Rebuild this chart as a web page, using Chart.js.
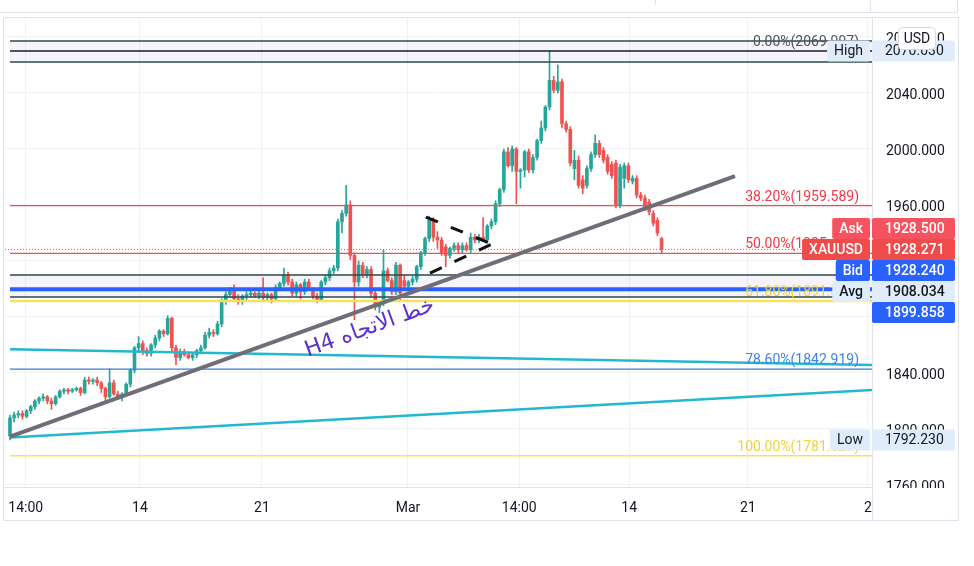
<!DOCTYPE html>
<html>
<head>
<meta charset="utf-8">
<script src="https://cdn.jsdelivr.net/npm/chart.js@4.4.1/dist/chart.umd.min.js"></script>
<style>
  body { margin: 0; background: #fff; }
  canvas { display: block; }
</style>
</head>
<body>
<canvas id="chart" width="974" height="566"></canvas>
<script>
// XAUUSD H4 candles
var opens = [1795,1808,1810,1811,1809,1813,1816,1820,1822,1823,
  1820,1818,1823,1827,1828,1827,1828,1829,1826,1835,
  1834,1835,1833,1829,1823,1833,1825,1823,1825,1832,
  1842,1858,1861,1856,1854,1860,1865,1870,1868,1879,
  1858,1851,1855,1853,1851,1853,1856,1858,1867,1869,
  1868,1875,1891,1896,1899,1893,1891,1895,1896,1897,
  1895,1897,1894,1896,1893,1901,1904,1910,1905,1897,
  1903,1898,1905,1900,1895,1892,1905,1908,1913,1915,
  1948,1954,1960,1924,1905,1917,1910,1914,1897,1887,
  1890,1913,1906,1898,1917,1906,1902,1905,1907,1916,
  1926,1936,1949,1937,1935,1930,1924,1929,1931,1928,
  1931,1928,1937,1935,1937,1935,1945,1948,1961,1971,
  1998,1988,2000,1984,1985,1998,1985,1994,2006,2015,
  2030,2049,2042,2048,2018,2014,1986,1992,1978,1974,
  1986,1996,2004,1999,1994,1989,1990,1960,1979,1988,
  1977,1979,1967,1965,1962,1954,1949,1936];
var highs = [1810,1812,1813,1813,1814,1817,1821,1823,1825,1824,
  1822,1824,1828,1829,1829,1829,1830,1830,1837,1837,
  1836,1837,1834,1830,1843,1835,1827,1826,1833,1843,
  1859,1866,1863,1858,1861,1867,1871,1871,1881,1880,
  1860,1857,1857,1855,1854,1857,1860,1869,1872,1871,
  1877,1893,1898,1901,1903,1896,1896,1898,1899,1898,
  1899,1908,1897,1897,1903,1905,1915,1912,1907,1905,
  1904,1907,1907,1901,1897,1906,1910,1915,1917,1950,
  1956,1974,1963,1926,1920,1919,1916,1916,1899,1892,
  1928,1915,1908,1919,1918,1910,1906,1909,1917,1927,
  1937,1952,1951,1941,1937,1932,1930,1933,1933,1933,
  1933,1940,1939,1939,1951,1946,1950,1963,1972,2000,
  2001,2002,2001,1986,1999,2000,1996,2007,2020,2031,
  2070.03,2052,2060,2050,2020,2016,1999,1995,1981,1988,
  1998,2010,2006,2001,1996,1991,1992,1989,1990,1990,
  1981,1981,1969,1967,1964,1956,1951,1937];
var lows = [1792.23,1805,1808,1807,1808,1811,1814,1818,1820,1818,
  1814,1817,1822,1825,1825,1826,1827,1824,1825,1832,
  1832,1831,1826,1820,1822,1824,1821,1820,1824,1830,
  1840,1855,1853,1852,1852,1858,1863,1866,1867,1856,
  1846,1849,1852,1850,1849,1851,1854,1857,1865,1866,
  1867,1873,1889,1894,1891,1889,1889,1892,1894,1894,
  1893,1891,1892,1890,1892,1899,1902,1903,1895,1895,
  1893,1896,1899,1893,1890,1891,1903,1906,1911,1913,
  1940,1952,1921,1878,1902,1908,1908,1894,1885,1883,
  1888,1905,1896,1896,1892,1900,1900,1903,1905,1914,
  1924,1934,1934,1929,1924,1916,1922,1927,1926,1926,
  1927,1926,1933,1933,1934,1933,1943,1946,1959,1969,
  1987,1984,1961,1972,1980,1983,1983,1992,2004,2013,
  2028,2040,2040,2015,2012,1988,1978,1972,1968,1972,
  1984,1994,1994,1990,1982,1979,1958,1958,1972,1976,
  1975,1965,1963,1956,1953,1945,1938,1926];
var closes = [1808,1810,1811,1809,1813,1816,1820,1822,1823,1820,
  1818,1823,1827,1828,1827,1828,1829,1826,1835,1834,
  1835,1833,1829,1823,1833,1825,1823,1825,1832,1842,
  1858,1861,1856,1854,1860,1865,1870,1868,1879,1858,
  1851,1855,1853,1851,1853,1856,1858,1867,1869,1868,
  1875,1891,1896,1899,1893,1891,1895,1896,1897,1895,
  1897,1894,1896,1893,1901,1904,1910,1905,1897,1903,
  1898,1905,1900,1895,1892,1905,1908,1913,1915,1948,
  1954,1960,1924,1905,1917,1910,1914,1897,1887,1890,
  1913,1906,1898,1917,1897,1902,1905,1907,1916,1926,
  1936,1949,1937,1935,1926,1924,1929,1931,1928,1931,
  1928,1937,1935,1937,1935,1945,1948,1961,1971,1998,
  1988,2000,1984,1985,1998,1985,1994,2006,2015,2030,
  2049,2042,2048,2018,2014,1990,1992,1974,1972,1986,
  1996,2004,1996,1992,1984,1981,1960,1987,1988,1978,
  1979,1967,1965,1958,1955,1947,1940,1928.271];

// axes
var xMin = -1.2, xMax = 207.7;
var yMin = 1758.57, yMax = 2093.57;
var timeTicks = [3.8, 31.3, 60.7, 95.9, 122.7, 149.2, 177.8, 206.7];
var timeLabels = ['14:00', '14', '21', 'Mar', '14:00', '14', '21', '2'];
var priceTicks = [1760, 1800, 1840, 1880, 1920, 1960, 2000, 2040, 2080];

// fibonacci retracement
var fibValues = [2069.997, 1959.589, 1925.480, 1891.370, 1842.820, 1780.970];
var fibLabels = ['0.00%(2069.997)', '38.20%(1959.589)', '50.00%(1925.480)',
  '61.80%(1891.370)', '78.60%(1842.919)', '100.00%(1781.027)'];

// drawings (candle index, price)
var trendLine = [[0, 1794.5], [174.7, 1980.7]];
var channelUpper = [[0, 1857], [207.7, 1845.7]];
var channelLower = [[0, 1794], [207.7, 1827.9]];
var patternUpper = [[100.2, 1951.4], [116.1, 1932.1]];
var patternLower = [[101.2, 1911.4], [116.1, 1932.1]];
var zoneTops = [2077.1, 1910.0];
var zoneBottoms = [2062.1, 1894.3];
var supportLevel = 1899.858;
var lastPrice = 1928.271;
var noteText = 'خط الاتجاه H4';
var noteAt = [86.7, 1872.1];

// price scale tags
var stackNames = ['Ask', 'XAUUSD', 'Bid', 'Avg', ''];
var stackValues = [1928.5, 1928.271, 1928.24, 1908.034, 1899.858];
var extremeNames = ['High', 'Low'];
var extremeValues = [2070.03, 1792.23];

// styles
var up = '#26a69a', down = '#ef5350';
var fibLineColors = ['#1e1e1e', '#f0504c', '#f0504c', '#f5e15a', '#3b7ddd', '#f5e15a'];
var fibLineWidths = [1.6, 1.2, 1.2, 2.5, 1.3, 1.5];
var fibTextColors = ['#50535e', '#f23645', '#f23645', '#efd23c', '#3f84e5', '#efd23c'];
var stackBg = ['#f7525f', '#ee4b4b', '#2962ff', '#e1ecfb', '#2962ff'];
var stackFg = ['#fff', '#fff', '#fff', '#131722', '#fff'];
var lightBg = '#e1ecfb';

var idx = closes.map(function (c, i) { return i; });
var candleColors = closes.map(function (c, i) { return c >= opens[i] ? up : down; });

function pts(list) {
  return list.map(function (p) { return { x: p[0], y: p[1] }; });
}
function level(v, from) {
  return [{ x: from, y: v }, { x: xMax, y: v }];
}
function line(data, color, width, order, dash) {
  return {
    type: 'line', data: data, borderColor: color, borderWidth: width,
    borderDash: dash || [], pointRadius: 0, fill: false, tension: 0, order: order
  };
}

var datasets = [];
// shaded zones
zoneTops.forEach(function (t, k) {
  datasets.push({
    type: 'line', data: level(t, 0), fill: { value: zoneBottoms[k] },
    backgroundColor: 'rgba(120,90,200,0.07)', borderColor: 'rgba(0,0,0,0)',
    borderWidth: 1, pointRadius: 0, order: 9
  });
});
datasets.push(line(level(lastPrice, xMin), down, 1, 8, [1, 2]));
datasets.push({
  type: 'bar', data: idx.map(function (i) { return { x: i, y: [lows[i], highs[i]] }; }),
  backgroundColor: candleColors, barThickness: 1, grouped: false, order: 7
});
datasets.push({
  type: 'bar', data: idx.map(function (i) { return { x: i, y: [opens[i], closes[i]] }; }),
  backgroundColor: candleColors, barThickness: 3, minBarLength: 1, grouped: false, order: 6
});
zoneTops.forEach(function (t, k) {
  datasets.push(line(level(t, 0), '#2e4a44', 1.5, 4));
  datasets.push(line(level(zoneBottoms[k], 0), '#2e4a44', 1.5, 4));
});
fibValues.forEach(function (v, k) {
  datasets.push(line(level(v, 0), fibLineColors[k], fibLineWidths[k], 3));
});
datasets.push(line(level(supportLevel, 0), '#2962ff', 4, 3));
datasets.push(line(pts(channelUpper), '#22b9d0', 2.5, 2));
datasets.push(line(pts(channelLower), '#22b9d0', 2.5, 2));
datasets.push(line(pts(patternUpper), '#111', 3, 1, [13, 14]));
datasets.push(line(pts(patternLower), '#111', 3, 1, [13, 14]));
datasets.push(line(pts(trendLine), '#6f6e78', 4, 0));

function tag(ctx, x, yc, w, bg, fg, text, left) {
  var h = 21;
  ctx.fillStyle = bg;
  ctx.beginPath();
  ctx.roundRect(x, yc - h / 2, w, h, 2);
  ctx.fill();
  ctx.fillStyle = fg;
  ctx.textBaseline = 'middle';
  if (left) {
    ctx.textAlign = 'left';
    ctx.fillText(text, x + 13, yc + 1);
  } else {
    ctx.textAlign = 'center';
    ctx.fillText(text, x + w / 2, yc + 1);
  }
}

var overlay = {
  id: 'overlay',
  afterDraw: function (chart) {
    var ctx = chart.ctx, xs = chart.scales.x, ys = chart.scales.y, a = chart.chartArea;
    ctx.save();

    // fib captions
    ctx.font = '14px Roboto';
    ctx.textAlign = 'right';
    ctx.textBaseline = 'alphabetic';
    fibValues.forEach(function (v, k) {
      ctx.fillStyle = fibTextColors[k];
      ctx.fillText(fibLabels[k], a.right - 13, ys.getPixelForValue(v) - 5);
    });

    // trend line note
    ctx.save();
    ctx.translate(xs.getPixelForValue(noteAt[0]), ys.getPixelForValue(noteAt[1]));
    ctx.rotate(-0.35);
    ctx.direction = 'rtl';
    ctx.textAlign = 'center';
    ctx.textBaseline = 'middle';
    ctx.font = '22px "DejaVu Sans"';
    ctx.fillStyle = '#5a2fd0';
    ctx.fillText(noteText, 0, 0);
    ctx.restore();

    // time axis strip
    ctx.fillStyle = '#fff';
    ctx.fillRect(0, a.bottom + 1, 960, 33);
    xs.drawLabels(a);

    // frame
    ctx.strokeStyle = '#e0e3eb';
    ctx.lineWidth = 1;
    ctx.beginPath();
    ctx.rect(3.5, 17.5, 955, 503);
    ctx.moveTo(a.right + 0.5, a.bottom);
    ctx.lineTo(a.right + 0.5, 520);
    ctx.moveTo(0, 12.5); ctx.lineTo(958, 12.5);
    ctx.moveTo(870.5, 0); ctx.lineTo(870.5, 12);
    ctx.moveTo(957.5, 0); ctx.lineTo(957.5, 12);
    ctx.moveTo(655.5, 0); ctx.lineTo(655.5, 5);
    ctx.stroke();

    // stacked price tags around the symbol tag
    ctx.font = '500 14px Roboto';
    var h = 21, main = 1, ycs = [];
    ycs[main] = ys.getPixelForValue(stackValues[main]);
    for (var k = main - 1; k >= 0; k--) {
      ycs[k] = Math.min(ys.getPixelForValue(stackValues[k]), ycs[k + 1] - h);
    }
    for (k = main + 1; k < stackValues.length; k++) {
      ycs[k] = Math.max(ys.getPixelForValue(stackValues[k]), ycs[k - 1] + h);
    }
    stackValues.forEach(function (v, k) {
      tag(ctx, a.right, ycs[k], 83, stackBg[k], stackFg[k], v.toFixed(3), true);
      if (stackNames[k]) {
        var w = ctx.measureText(stackNames[k]).width + 14;
        tag(ctx, a.right - 2 - w, ycs[k], w, stackBg[k], stackFg[k], stackNames[k], false);
      }
    });
    ctx.font = '14px Roboto';
    extremeValues.forEach(function (v, k) {
      var yc = ys.getPixelForValue(v);
      tag(ctx, a.right, yc, 83, lightBg, '#131722', v.toFixed(3), true);
      var w = ctx.measureText(extremeNames[k]).width + 14;
      tag(ctx, a.right - 2 - w, yc, w, lightBg, '#131722', extremeNames[k], false);
    });

    // currency badge
    ctx.fillStyle = '#fff';
    ctx.strokeStyle = '#d6d9e0';
    ctx.beginPath();
    ctx.roundRect(898.5, 27.5, 37, 22, 4);
    ctx.fill();
    ctx.stroke();
    ctx.fillStyle = '#131722';
    ctx.textAlign = 'center';
    ctx.textBaseline = 'middle';
    ctx.fillText('USD', 917, 39);
    ctx.restore();
  }
};

new Chart(document.getElementById('chart'), {
  type: 'bar',
  data: { datasets: datasets },
  options: {
    responsive: false,
    animation: false,
    devicePixelRatio: 1,
    layout: { padding: { left: 5, top: 18, right: 19, bottom: 46 } },
    plugins: { legend: { display: false }, tooltip: { enabled: false } },
    scales: {
      x: {
        type: 'linear', min: xMin, max: xMax, offset: false,
        afterBuildTicks: function (s) { s.ticks = timeTicks.map(function (v) { return { value: v }; }); },
        afterFit: function (s) { s.height = 33; s.paddingLeft = 0; s.paddingRight = 0; },
        ticks: {
          autoSkip: false, maxRotation: 0, padding: 13, color: '#131722',
          font: { family: 'Roboto', size: 14 },
          callback: function (v, i) { return timeLabels[i]; }
        },
        grid: { color: '#f0f2f6', drawTicks: false, tickLength: 0, offset: false },
        border: { color: '#e0e3eb' }
      },
      y: {
        type: 'linear', position: 'right', min: yMin, max: yMax,
        afterBuildTicks: function (s) { s.ticks = priceTicks.map(function (v) { return { value: v }; }); },
        afterFit: function (s) { s.width = 83; s.paddingTop = 0; s.paddingBottom = 0; },
        ticks: {
          padding: 14, labelOffset: 2.5, color: '#131722', font: { family: 'Roboto', size: 14 },
          callback: function (v) { return v.toFixed(3); }
        },
        grid: { color: '#f0f2f6', drawTicks: false, tickLength: 0 },
        border: { color: '#e0e3eb' }
      }
    }
  },
  plugins: [overlay]
});
</script>
</body>
</html>
